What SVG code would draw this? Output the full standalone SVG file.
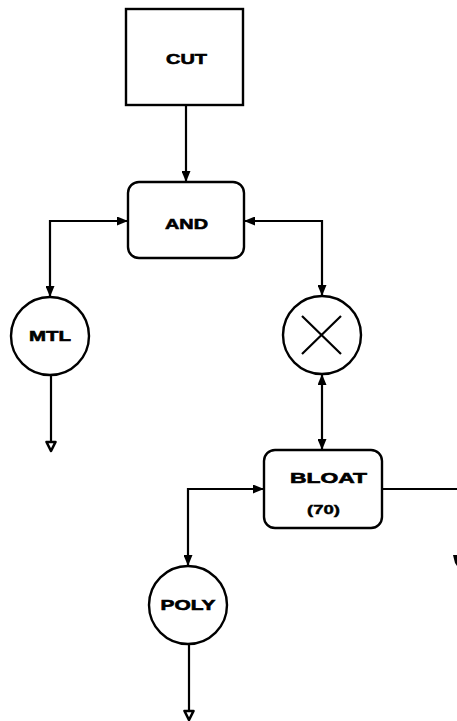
<svg xmlns="http://www.w3.org/2000/svg" width="457" height="721" viewBox="0 0 457 721">
<defs>
<style>
.box{fill:#fff;stroke:#000;stroke-width:2.4}
.ln{fill:none;stroke:#000;stroke-width:2.2}
.t{font-family:"Liberation Sans",Arial,sans-serif;font-weight:bold;font-size:15px;fill:#000;stroke:#000;stroke-width:0.6;text-anchor:middle}
.s{font-size:12px;stroke-width:0.4}
.hollow{fill:#fff;stroke:#000;stroke-width:2.6;stroke-linejoin:round}
</style>
<marker id="ah" viewBox="0 0 11 9" refX="11" refY="4.5" markerWidth="11" markerHeight="9" markerUnits="userSpaceOnUse" orient="auto-start-reverse">
<path d="M0,0 L11,4.5 L0,9 Z" fill="#000"/>
</marker>
</defs>
<rect width="457" height="721" fill="#fff"/>
<g id="connectors">
<line class="ln" x1="186" y1="105" x2="186" y2="182" marker-end="url(#ah)"/>
<path class="ln" d="M128,221 H50 V297" marker-start="url(#ah)" marker-end="url(#ah)"/>
<path class="ln" d="M244,221 H322 V296" marker-start="url(#ah)" marker-end="url(#ah)"/>
<line class="ln" x1="322" y1="374" x2="322" y2="450" marker-start="url(#ah)" marker-end="url(#ah)"/>
<path class="ln" d="M264,489 H188 V566" marker-start="url(#ah)" marker-end="url(#ah)"/>
<path class="ln" d="M382,489 H457"/>
<path class="ln" d="M51,375 V442"/>
<polygon class="hollow" points="46.5,442 55.5,442 51,451"/>
<path class="ln" d="M189,644 V711"/>
<polygon class="hollow" points="184.5,711 193.5,711 189,720"/>
<polygon points="453,555 457,555 457,566 455,563" fill="#000"/>
</g>
<g id="cut">
<rect class="box" x="126" y="9" width="117" height="96"/>
<text class="t" x="186.5" y="64" textLength="41" lengthAdjust="spacingAndGlyphs">CUT</text>
</g>
<g id="and">
<rect class="box" x="128" y="182" width="116" height="76" rx="11"/>
<text class="t" x="186.5" y="229" textLength="43" lengthAdjust="spacingAndGlyphs">AND</text>
</g>
<g id="mtl">
<circle class="box" cx="50" cy="336" r="39"/>
<text class="t" x="50" y="341" textLength="42" lengthAdjust="spacingAndGlyphs">MTL</text>
</g>
<g id="mult">
<circle class="box" cx="322" cy="335" r="39"/>
<path class="ln" d="M302,316 L341,354 M341,316 L302,354"/>
</g>
<g id="bloat">
<rect class="box" x="264" y="450" width="118" height="78" rx="11"/>
<text class="t" x="328.5" y="483" textLength="77" lengthAdjust="spacingAndGlyphs">BLOAT</text>
<text class="t s" x="323.5" y="514" textLength="33" lengthAdjust="spacingAndGlyphs">(70)</text>
</g>
<g id="poly">
<circle class="box" cx="188" cy="605" r="39"/>
<text class="t" x="188" y="610" textLength="55" lengthAdjust="spacingAndGlyphs">POLY</text>
</g>
</svg>
